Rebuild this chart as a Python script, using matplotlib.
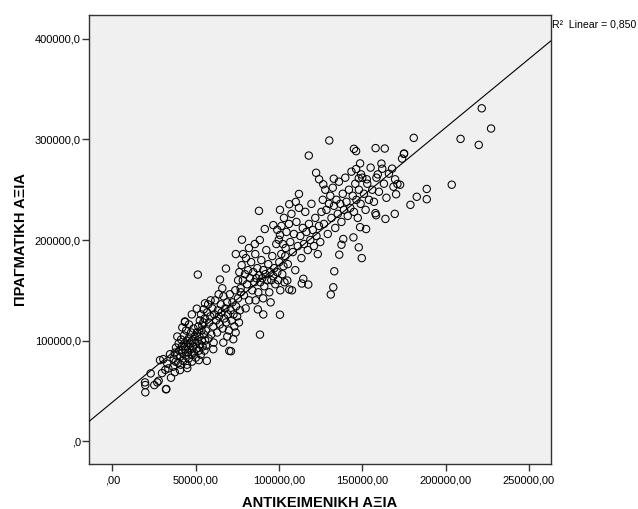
import numpy as np
import matplotlib
matplotlib.use("Agg")
import matplotlib.pyplot as plt
from matplotlib.ticker import FuncFormatter

tail_low = [(19.8, 48.5), (19.8, 55.7), (19.6, 58.4), (25.2, 55.7), (27.0, 58.4),
            (27.8, 60.0), (32.4, 51.8), (23.0, 67.3), (29.8, 67.6), (31.8, 70.9),
            (33.6, 72.3), (35.2, 63.0), (28.6, 80.5), (30.6, 81.5), (34.6, 86.4),
            (40.6, 70.6), (45.0, 72.6), (36.5, 74.0), (38.0, 79.0), (33.0, 77.0),
            (37.5, 68.5)]

cluster_a = [(36.8, 82), (37.5, 88), (38.2, 93), (38.8, 85), (39.5, 78), (39.8, 97),
             (40.2, 90), (40.8, 84), (41.3, 101), (41.7, 94), (42.1, 88), (42.6, 80),
             (43.0, 105), (43.2, 97), (43.6, 91), (44.0, 85), (44.3, 110), (44.7, 100),
             (45.1, 94), (45.4, 88), (45.8, 82), (46.2, 103), (46.5, 97), (46.9, 91),
             (47.3, 108), (47.6, 86), (48.0, 100), (48.3, 94), (48.7, 112), (49.0, 88),
             (49.4, 104), (49.8, 97), (50.1, 83), (50.5, 92), (50.8, 108), (51.2, 100),
             (51.6, 114), (52.0, 90), (52.3, 104), (52.7, 96), (53.1, 86), (53.5, 110),
             (53.8, 100), (54.2, 94), (54.6, 118), (55.0, 106), (55.3, 90), (55.7, 100),
             (42.0, 113), (44.8, 76), (47.8, 79), (39.0, 104), (41.0, 76), (46.0, 116),
             (56.2, 95)]

cluster_b = [(52.5, 120), (53.2, 126), (54.0, 115), (54.8, 131), (55.5, 122), (56.2, 110),
             (56.9, 128), (57.5, 136), (58.1, 118), (58.8, 124), (59.4, 106), (60.0, 132),
             (60.6, 114), (61.2, 126), (61.8, 140), (62.3, 120), (62.9, 108), (63.4, 130),
             (64.0, 124), (64.5, 116), (65.1, 136), (65.6, 128), (66.2, 112), (66.7, 144),
             (67.2, 122), (67.8, 132), (68.3, 118), (68.9, 138), (69.4, 126), (70.0, 110),
             (70.5, 146), (71.0, 130), (71.6, 120), (72.1, 138), (72.7, 126), (73.2, 114),
             (73.8, 150), (74.3, 134), (74.9, 124), (75.4, 142), (76.0, 118), (76.6, 130),
             (77.1, 148), (57.8, 102), (60.8, 98), (63.8, 146), (69.0, 104), (74.0, 108),
             (59.0, 140), (66.0, 152)]

cluster_c = [(75.5, 160), (76.2, 168), (77.0, 152), (77.6, 175), (78.3, 160), (79.0, 145),
             (79.6, 166), (80.2, 182), (80.9, 156), (81.5, 170), (82.1, 140), (82.7, 162),
             (83.3, 178), (84.0, 150), (84.6, 168), (85.2, 158), (85.8, 186), (86.4, 162),
             (87.0, 172), (87.6, 148), (88.2, 165), (88.8, 158), (89.4, 180), (90.0, 162),
             (90.6, 170), (91.2, 154), (91.8, 166), (92.4, 190), (93.0, 160), (93.6, 176),
             (94.2, 148), (94.8, 168), (95.4, 160), (96.0, 184), (96.6, 164), (97.2, 172),
             (97.8, 156), (98.4, 196), (99.0, 168), (99.6, 160), (100.2, 178), (100.8, 150),
             (101.4, 186), (102.0, 166), (102.7, 174), (103.3, 158), (104.0, 192),
             (78.5, 186), (82.0, 192), (86.0, 140), (90.5, 142), (95.0, 138), (80.0, 132),
             (85.5, 196), (88.5, 200)]

band_mid = [(100.6, 205), (101.5, 214), (102.3, 196), (103.0, 222), (103.8, 184),
            (104.5, 208), (105.3, 176), (106.0, 216), (106.8, 198), (107.5, 226),
            (108.3, 188), (109.0, 206), (109.8, 170), (110.5, 218), (111.3, 194),
            (112.0, 232), (112.8, 204), (113.5, 182), (114.3, 212), (115.0, 196),
            (115.8, 228), (116.5, 208), (117.3, 190), (118.0, 216), (118.8, 200),
            (119.5, 236), (120.3, 210), (121.0, 194), (121.8, 222), (122.5, 204),
            (123.3, 186), (124.0, 214), (124.8, 198), (106.2, 235.6), (110.1, 237.9),
            (112.0, 245.8), (88.0, 229), (100.6, 230), (91.5, 210.9), (96.6, 214.8),
            (99.0, 210.2), (77.8, 200.3), (99.9, 200.3), (74.1, 186), (64.6, 160.7),
            (68.2, 171.6)]

band_high = [(125.5, 228), (126.3, 240), (127.0, 216), (127.8, 250), (128.5, 230),
             (129.3, 206), (130.0, 236), (130.8, 244), (131.5, 222), (132.3, 252),
             (133.0, 234), (133.8, 212), (134.5, 240), (135.3, 226), (136.0, 258),
             (136.8, 236), (137.5, 218), (138.3, 246), (139.0, 230), (139.8, 262),
             (140.5, 238), (141.3, 224), (142.0, 250), (142.8, 232), (143.5, 268),
             (144.3, 244), (145.0, 228), (145.8, 256), (146.5, 240), (147.3, 222),
             (148.0, 250), (149.0, 236), (150.0, 262), (151.0, 246), (152.0, 230),
             (153.0, 256), (154.0, 240), (155.0, 272), (156.0, 250), (157.0, 238),
             (158.5, 262), (160.0, 248), (161.5, 276), (163.0, 256), (164.5, 242),
             (166.0, 266), (122.3, 266.9), (124.1, 260.4), (126.6, 255.4), (132.9, 261),
             (147.9, 261.4), (152.7, 260.4), (149.3, 265.3), (148.7, 276.2), (146.3, 270.6),
             (167.9, 271), (162.0, 270.9), (159.3, 265.3), (169.7, 260.4), (171.1, 255.7),
             (168.7, 253), (170.3, 245.5)]

sparse = [(117.9, 284), (130.2, 299), (145.0, 290.7), (146.3, 288.4), (158.0, 291.4),
          (163.5, 291), (175.0, 285.7), (173.9, 281), (221.7, 331), (227.3, 310.9),
          (209.0, 300.6), (219.9, 294.6), (180.9, 301.6), (175.1, 286), (203.7, 255),
          (188.7, 250.8), (182.7, 243), (188.7, 240.6), (178.9, 235), (172.7, 255),
          (163.9, 221), (169.5, 226), (157.9, 226.7), (158.3, 224.7), (149.7, 182),
          (147.9, 192.7), (144.7, 202.6), (148.7, 212.8), (152.3, 210.9), (136.2, 185.4),
          (137.5, 195.3), (138.6, 201), (133.2, 168.9), (132.6, 153), (131.1, 145.8),
          (117.6, 155.7), (114.6, 161.4), (113.7, 156.7), (105.0, 159.7), (107.8, 150),
          (106.2, 150.8), (88.6, 105.9), (72.6, 101.3), (100.6, 125.7), (87.3, 131),
          (90.6, 126), (71.2, 89.4), (43.6, 119), (51.3, 165.6), (47.7, 126),
          (50.7, 131.7), (43.6, 118.4), (56.7, 79.8), (51.9, 80.5), (60.6, 91.4),
          (66.6, 98), (70.2, 89.7), (55.6, 137), (32.2, 51.5)]

r2_text = "R\u00b2  Linear = 0,850"
x_label = "ΑΝΤΙΚΕΙΜΕΝΙΚΗ ΑΞΙΑ"
y_label = "ΠΡΑΓΜΑΤΙΚΗ ΑΞΙΑ"

groups = [tail_low, cluster_a, cluster_b, cluster_c, band_mid, band_high, sparse]
pts = np.array([p for g in groups for p in g]) * 1000.0
x, y = pts[:, 0], pts[:, 1]

plt.rcParams['font.family'] = ['Liberation Sans', 'DejaVu Sans']

fig = plt.figure(figsize=(6.38, 5.09), dpi=100)
ax = fig.add_axes([0.1395, 0.0884, 0.7237, 0.8821])
ax.set_facecolor('#f0f0f0')

ax.scatter(x, y, s=28, facecolors='none', edgecolors='black', linewidths=0.75, zorder=3)

# linear fit
b, a = np.polyfit(x, y, 1)
xlim = (-14000, 263100)
xx = np.array(xlim)
ax.plot(xx, a + b * xx, color='black', lw=0.8, zorder=4)

ax.set_xlim(*xlim)
ax.set_ylim(-22800, 423800)
ax.set_xticks(np.arange(0, 250001, 50000))
ax.set_yticks(np.arange(0, 400001, 100000))


def fmt_x(v, pos):
    s = ("%.2f" % v).replace('.', ',')
    return s[1:] if s.startswith('0') else s


def fmt_y(v, pos):
    s = ("%.1f" % v).replace('.', ',')
    return s[1:] if s.startswith('0') else s


ax.xaxis.set_major_formatter(FuncFormatter(fmt_x))
ax.yaxis.set_major_formatter(FuncFormatter(fmt_y))
ax.tick_params(direction='out', length=5, width=1, colors='#333333',
               labelcolor='black', labelsize=8)
ax.tick_params(axis='x', pad=3)
ax.tick_params(axis='y', pad=1)
for sp in ax.spines.values():
    sp.set_color('#333333')
    sp.set_linewidth(1.0)

ax.set_xlabel(x_label, fontsize=10.5, fontweight='bold', labelpad=8)
ax.set_ylabel(y_label, fontsize=10.5, fontweight='bold', labelpad=5)

ax.text(1.002, 0.978, r2_text, transform=ax.transAxes, fontsize=7.6,
        ha='left', va='center')

fig.savefig('out.png', dpi=100, facecolor='white')
